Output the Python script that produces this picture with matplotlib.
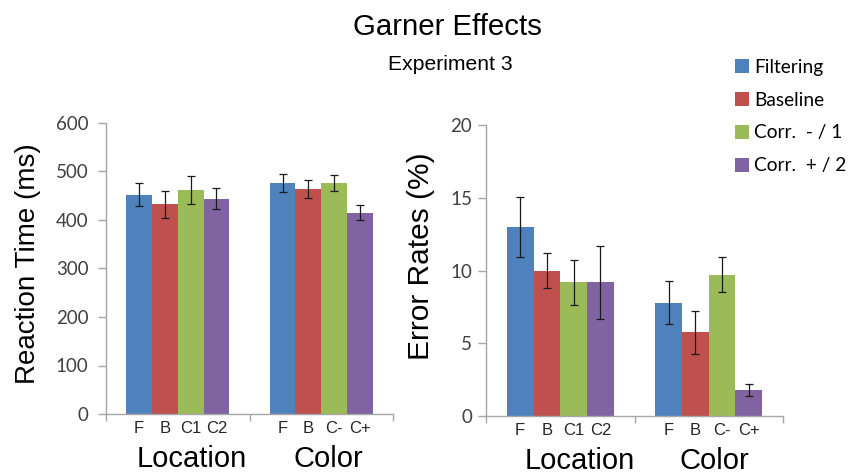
import matplotlib
matplotlib.use("Agg")
import matplotlib.pyplot as plt
from matplotlib.patches import Patch
import numpy as np

# Conditions and groups
conditions = ["Filtering", "Baseline", "Corr.  - / 1", "Corr.  + / 2"]
groups = ["Location", "Color"]
sub_labels = [["F", "B", "C1", "C2"], ["F", "B", "C-", "C+"]]
colors = ["#4F81BD", "#C0504D", "#9BBB59", "#8064A2"]

# Reaction time (ms): rows = groups, cols = conditions
rt_mean = [[452, 432, 462, 444], [476, 464, 476, 415]]
rt_err = [[24, 28, 29, 21], [18, 18, 17, 16]]

# Error rates (%)
er_mean = [[13.0, 10.0, 9.2, 9.2], [7.8, 5.75, 9.7, 1.8]]
er_err = [[2.05, 1.2, 1.55, 2.5], [1.47, 1.5, 1.2, 0.4]]

W, H = 848, 474
fig = plt.figure(figsize=(W / 100, H / 100), dpi=100)

LABEL_FONT = "Liberation Sans"
TICK_FONT = "Lato"
GRAY = "#A6A6A6"
TICK_COLOR = "#404040"
bar_w = 0.18


def draw_panel(ax, means, errs, ylim, yticks, ylabel, ylabel_size,
               ylabel_xy, ytick_pad, label_offsets):
    means = np.asarray(means)
    errs = np.asarray(errs)
    centers = []
    labels = []
    for g in range(len(groups)):
        for i in range(len(conditions)):
            x = g + (i - 1.5) * bar_w
            ax.bar(x, means[g, i], width=bar_w, color=colors[i],
                   edgecolor="none", zorder=2)
            ax.errorbar(x, means[g, i], yerr=errs[g, i], fmt="none",
                        ecolor="#1a1a1a", elinewidth=0.9, capsize=2.7,
                        capthick=0.9, zorder=3)
            centers.append(x)
            labels.append(sub_labels[g][i])
    ax.set_xlim(-0.5, len(groups) - 0.5)
    ax.set_ylim(*ylim)
    ax.set_yticks(yticks)
    ax.set_yticklabels([str(t) for t in yticks], fontfamily=TICK_FONT,
                       fontsize=13.5, color=TICK_COLOR)
    ax.tick_params(axis="y", length=5.5, color=GRAY, width=1, pad=ytick_pad)
    ax.set_xticks(centers)
    ax.set_xticklabels(labels, fontfamily=LABEL_FONT, fontsize=12,
                       color="#262626")
    ax.tick_params(axis="x", which="major", length=0, pad=5)
    ax.set_xticks(np.arange(-0.5, len(groups)), minor=True)
    ax.tick_params(axis="x", which="minor", length=5, color=GRAY, width=1)
    for side in ("top", "right"):
        ax.spines[side].set_visible(False)
    for side in ("left", "bottom"):
        ax.spines[side].set_color(GRAY)
        ax.spines[side].set_linewidth(1)
    ax.set_ylabel(ylabel, fontfamily=LABEL_FONT, fontsize=ylabel_size)
    ax.yaxis.set_label_coords(*ylabel_xy)
    for g, name in enumerate(groups):
        ax.text(g + label_offsets[g], -0.155, name,
                transform=ax.get_xaxis_transform(), ha="center", va="center",
                fontfamily=LABEL_FONT, fontsize=21)


ax1 = fig.add_axes([106 / W, 1 - 414 / H, 287 / W, 291 / H])
draw_panel(ax1, rt_mean, rt_err, (0, 600), [0, 100, 200, 300, 400, 500, 600],
           "Reaction Time (ms)", 20, (-0.227, 0.517), 7, [0.1, 0.05])

ax2 = fig.add_axes([486 / W, 1 - 416 / H, 297 / W, 291 / H])
draw_panel(ax2, er_mean, er_err, (0, 20), [0, 5, 10, 15, 20],
           "Error Rates (%)", 21.5, (-0.171, 0.548), 4.5, [0.13, 0.04])

fig.text(447 / W, 1 - 35 / H, "Garner Effects", ha="center", va="baseline",
         fontfamily=LABEL_FONT, fontsize=21.2)
fig.text(450 / W, 1 - 70 / H, "Experiment 3", ha="center", va="baseline",
         fontfamily=LABEL_FONT, fontsize=15.2)

handles = [Patch(facecolor=c, edgecolor="none") for c in colors]
fig.legend(handles, conditions, loc="upper left",
           bbox_to_anchor=(727 / W, 1 - 51 / H), frameon=False,
           prop={"family": TICK_FONT, "size": 13.8}, handlelength=0.76,
           handleheight=0.72, handletextpad=0.25, labelspacing=0.83,
           borderaxespad=0)

fig.savefig("out.png", dpi=100, facecolor="white")
